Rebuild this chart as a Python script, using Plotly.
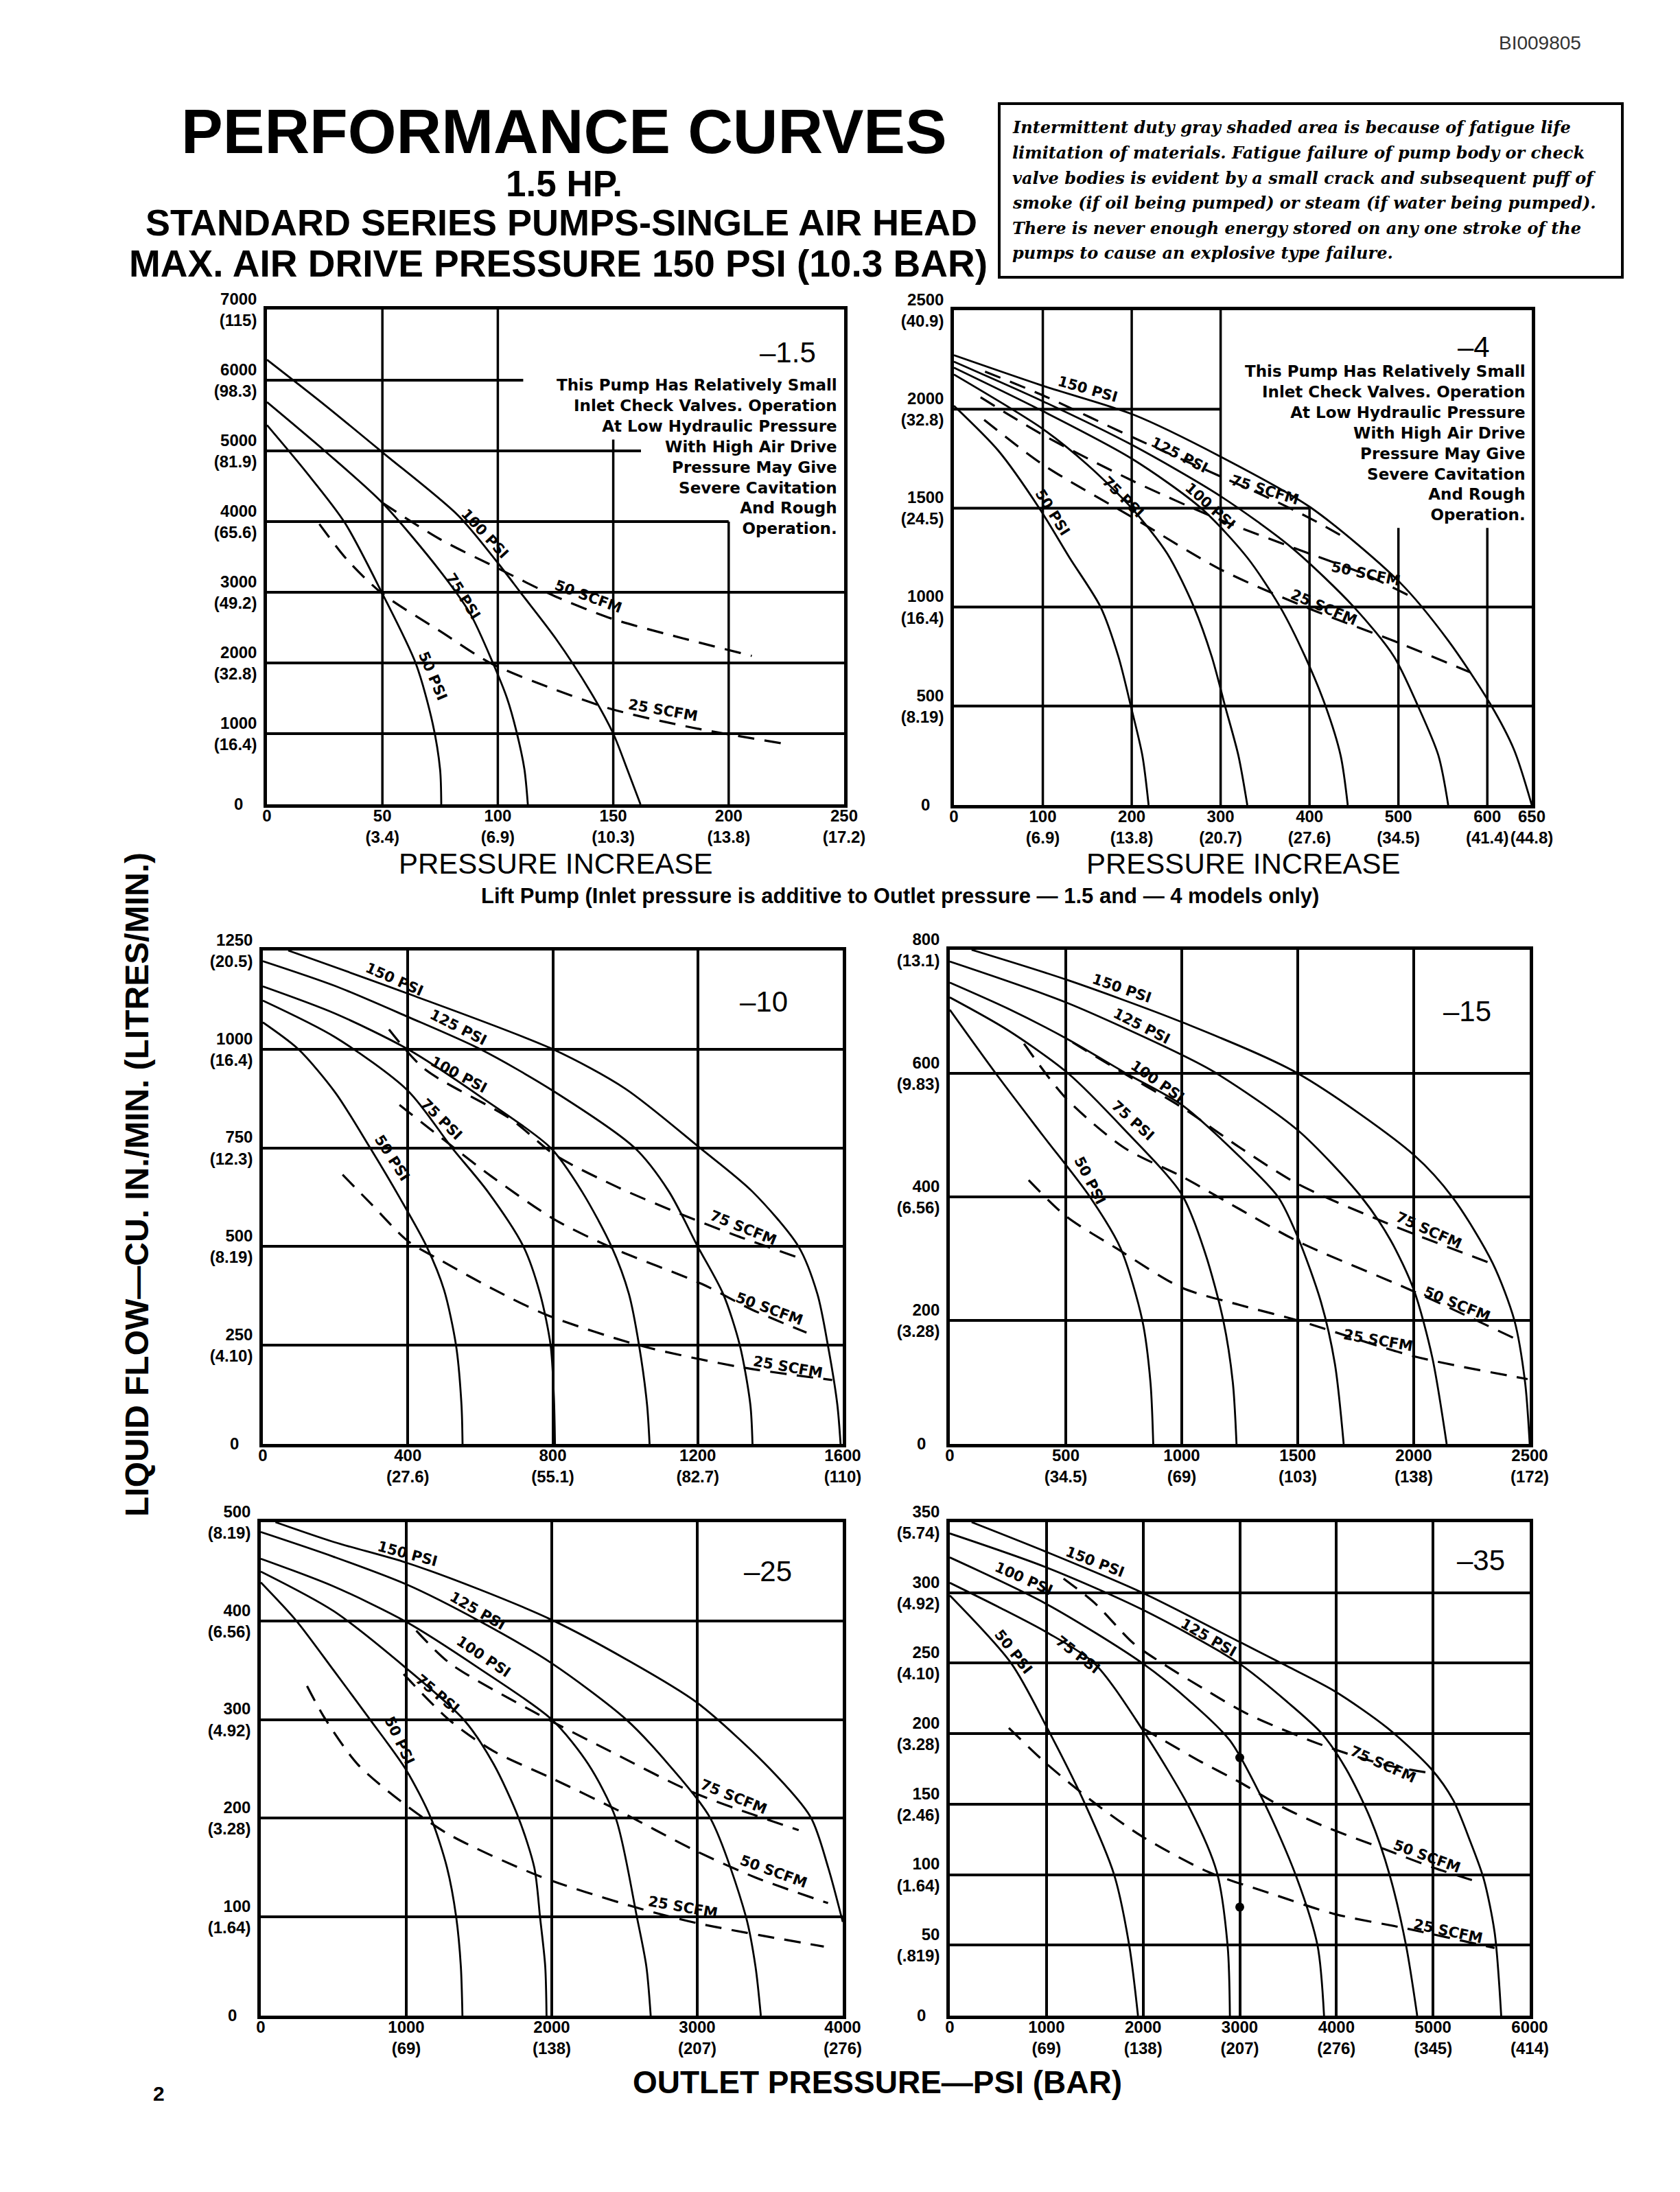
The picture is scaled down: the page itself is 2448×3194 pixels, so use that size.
import plotly.graph_objects as go

W, H = 2448, 3194

# ---------------- values ----------------
# model -1.5
X15_TICKS = [0, 50, 100, 150, 200, 250]
X15_BAR = ["", "3.4", "6.9", "10.3", "13.8", "17.2"]
Y15_TICKS = [0, 1000, 2000, 3000, 4000, 5000, 6000, 7000]
Y15_LTR = ["", "16.4", "32.8", "49.2", "65.6", "81.9", "98.3", "115"]
PSI_15 = {
    "100": ([0, 25, 50, 82.7, 100, 110, 125, 140, 150, 156, 161.8],
            [6290, 5650, 4980, 4090, 3415, 2990, 2350, 1600, 1000, 500, 0]),
    "75": ([0, 25, 50, 75, 88, 98, 104, 108, 111.5, 113],
           [5690, 5000, 4265, 3300, 2700, 1990, 1500, 1040, 500, 0]),
    "50": ([0, 17, 33.6, 50, 64.5, 71.8, 75, 75.5],
           [5365, 4700, 3990, 2980, 1990, 1140, 490, 0]),
}
SCFM_15 = {
    "50": ([50, 75, 100, 125, 150, 180, 210], [4265, 3750, 3340, 2940, 2620, 2350, 2100]),
    "25": ([22.7, 35, 50, 75, 97.3, 125, 150, 185, 222.7],
           [3965, 3450, 2980, 2450, 1990, 1620, 1340, 1080, 865]),
}

# model -4
X4_TICKS = [0, 100, 200, 300, 400, 500, 600, 650]
X4_BAR = ["", "6.9", "13.8", "20.7", "27.6", "34.5", "41.4", "44.8"]
Y4_TICKS = [0, 500, 1000, 1500, 2000, 2500]
Y4_LTR = ["", "8.19", "16.4", "24.5", "32.8", "40.9"]
PSI_4 = {
    "150": ([0, 103, 202, 300, 401, 502, 556, 603, 630, 650],
            [2273, 2114, 1972, 1760, 1504, 1123, 831, 513, 280, 0]),
    "125": ([0, 100, 200, 300, 380, 450, 495, 522, 545, 556],
            [2240, 2040, 1820, 1560, 1300, 1000, 750, 500, 250, 0]),
    "100": ([0, 100, 200, 278, 330, 367, 395, 418, 435, 443],
            [2210, 1990, 1750, 1500, 1250, 1000, 750, 500, 250, 0]),
    "75": ([0, 100, 150, 200, 240, 270, 290, 305, 320, 330],
           [2175, 1900, 1720, 1500, 1270, 1000, 750, 500, 250, 0]),
    "50": ([0, 50, 96, 130, 165, 185, 199, 212, 219],
           [2017, 1790, 1500, 1250, 1000, 750, 500, 250, 0]),
}
SCFM_4 = {
    "75": ([35, 100, 200, 300, 350, 400, 440], [2190, 2070, 1860, 1660, 1560, 1450, 1350]),
    "50": ([30, 100, 200, 300, 400, 460, 520], [2060, 1870, 1640, 1440, 1270, 1170, 1040]),
    "25": ([34, 100, 202, 300, 401, 500, 581], [1946, 1720, 1450, 1190, 990, 820, 670]),
}

# model -10
X10_TICKS = [0, 400, 800, 1200, 1600]
X10_BAR = ["", "27.6", "55.1", "82.7", "110"]
Y10_TICKS = [0, 250, 500, 750, 1000, 1250]
Y10_LTR = ["", "4.10", "8.19", "12.3", "16.4", "20.5"]
PSI_10 = {
    "150": ([70, 400, 800, 1000, 1206, 1350, 1478, 1530, 1559, 1585, 1594],
            [1250, 1141, 1000, 900, 750, 640, 500, 380, 250, 100, 0]),
    "125": ([0, 200, 400, 600, 800, 1026, 1120, 1200, 1270, 1316, 1345, 1351],
            [1223, 1160, 1082, 1000, 895, 750, 640, 500, 380, 250, 100, 0]),
    "100": ([0, 200, 400, 600, 794, 880, 962, 1010, 1038, 1060, 1067],
            [1159, 1090, 1000, 880, 750, 640, 500, 380, 250, 100, 0]),
    "75": ([0, 200, 400, 522, 620, 719, 765, 794, 803, 806],
           [1123, 1030, 895, 750, 640, 500, 380, 250, 120, 0]),
    "50": ([0, 98, 200, 296, 380, 452, 500, 533, 548, 551],
           [1068, 1000, 890, 750, 620, 500, 390, 250, 100, 0]),
}
SCFM_10 = {
    "75": ([348, 446, 684, 806, 980, 1154, 1300, 1484], [1050, 950, 823, 732, 650, 582, 530, 470]),
    "50": ([377, 500, 632, 806, 968, 1212, 1350, 1500], [859, 770, 677, 568, 495, 405, 340, 282]),
    "25": ([220, 300, 400, 493, 640, 783, 1038, 1316, 1571], [682, 607, 514, 464, 390, 327, 250, 195, 162]),
}

# model -15
X15B_TICKS = [0, 500, 1000, 1500, 2000, 2500]
X15B_BAR = ["", "34.5", "69", "103", "138", "172"]
Y15B_TICKS = [0, 200, 400, 600, 800]
Y15B_LTR = ["", "3.28", "6.56", "9.83", "13.1"]
PSI_15B = {
    "150": ([94, 500, 1000, 1500, 2000, 2170, 2340, 2434, 2480, 2500],
            [800, 752, 683, 600, 468, 398, 293, 200, 100, 0]),
    "125": ([0, 500, 1000, 1150, 1500, 1774, 1900, 2000, 2080, 2142],
            [781, 715, 630, 600, 508, 400, 330, 250, 140, 0]),
    "100": ([0, 250, 500, 760, 1000, 1250, 1415, 1500, 1600, 1660, 1698],
            [747, 705, 657, 600, 549, 465, 400, 335, 230, 130, 0]),
    "75": ([0, 250, 510, 750, 1000, 1100, 1179, 1220, 1236],
           [723, 670, 600, 510, 404, 310, 200, 100, 0]),
    "50": ([0, 198, 400, 604, 736, 830, 865, 877], [703, 600, 500, 400, 317, 200, 100, 0]),
}
SCFM_15B = {
    "75": ([530, 750, 1000, 1250, 1500, 1887, 2349], [650, 600, 545, 480, 421, 357, 290]),
    "50": ([320, 500, 750, 1000, 1250, 1500, 2000, 2434], [648, 560, 480, 433, 380, 328, 247, 171]),
    "25": ([340, 500, 717, 1000, 1250, 1500, 2000, 2491], [427, 369, 317, 253, 225, 200, 142, 105]),
}

# model -25
X25_TICKS = [0, 1000, 2000, 3000, 4000]
X25_BAR = ["", "69", "138", "207", "276"]
Y25_TICKS = [0, 100, 200, 300, 400, 500]
Y25_LTR = ["", "1.64", "3.28", "4.92", "6.56", "8.19"]
PSI_25 = {
    "150": ([101, 500, 1000, 1500, 2000, 2500, 3000, 3500, 3780, 3900, 4000],
            [500, 480, 459, 432, 401, 362, 317, 250, 201, 150, 95]),
    "125": ([0, 500, 1000, 1500, 2000, 2512, 2800, 3090, 3335, 3400, 3437],
            [490, 465, 437, 400, 357, 300, 255, 200, 100, 50, 0]),
    "100": ([0, 500, 1000, 1500, 2000, 2250, 2440, 2585, 2650, 2680],
            [463, 435, 399, 352, 300, 255, 200, 100, 50, 0]),
    "75": ([0, 500, 1000, 1400, 1600, 1770, 1880, 1920, 1955, 1964],
           [450, 410, 352, 299, 255, 201, 150, 99, 50, 0]),
    "50": ([0, 245, 500, 751, 999, 1170, 1280, 1343, 1375, 1386],
           [439, 400, 350, 300, 249, 200, 150, 100, 50, 0]),
}
SCFM_25 = {
    "75": ([1069, 1300, 1848, 2400, 2975, 3697], [390, 357, 310, 268, 226, 188]),
    "50": ([982, 1300, 1600, 1993, 2455, 2975, 3400, 3899], [346, 299, 268, 241, 208, 168, 140, 114]),
    "25": ([318, 433, 664, 982, 1300, 1921, 2570, 2989, 3870], [334, 303, 255, 215, 183, 141, 110, 94, 70]),
}

# model -35
X35_TICKS = [0, 1000, 2000, 3000, 4000, 5000, 6000]
X35_BAR = ["", "69", "138", "207", "276", "345", "414"]
Y35_TICKS = [0, 50, 100, 150, 200, 250, 300, 350]
Y35_LTR = ["", ".819", "1.64", "2.46", "3.28", "4.10", "4.92", "5.74"]
PSI_35 = {
    "150": ([226, 996, 1992, 3000, 3487, 3985, 4528, 4981, 5207, 5388, 5524, 5637, 5705],
            [350, 329, 300, 265, 248, 230, 204, 175, 153, 123, 97, 59, 0]),
    "125": ([0, 996, 1992, 2988, 3500, 3850, 4100, 4350, 4550, 4720, 4836],
            [342, 318, 288, 250, 222, 200, 175, 140, 100, 50, 0]),
    "100": ([0, 1000, 1992, 2500, 2900, 3260, 3577, 3804, 3872],
            [325, 292, 250, 222, 195, 150, 100, 50, 0]),
    "75": ([0, 500, 1000, 1494, 1992, 2490, 2762, 2875, 2898],
           [307, 290, 272, 250, 203, 146, 102, 49, 0]),
    "50": ([0, 634, 1000, 1400, 1700, 1856, 1947], [298, 250, 205, 150, 100, 50, 0]),
}
SCFM_35 = {
    "75": ([1177, 1494, 1902, 2219, 2672, 3079, 3849, 4500, 4981], [310, 293, 264, 249, 230, 214, 192, 178, 172]),
    "50": ([1992, 2219, 2600, 2988, 3441, 3849, 4500, 5000, 5456], [204, 195, 180, 166, 148, 135, 118, 105, 95]),
    "25": ([611, 996, 1494, 1992, 2672, 3305, 3985, 4709, 5637], [204, 179, 151, 127, 102, 87, 72, 62, 48]),
}
DOT35_X = [3000, 3000]
DOT35_Y = [183, 77]

NOTE = ("This Pump Has Relatively Small<br>Inlet Check Valves. Operation<br>"
        "At Low Hydraulic Pressure<br>With High Air Drive<br>Pressure May Give<br>"
        "Severe Cavitation<br>And Rough<br>Operation.")
BOX_LINES = [
    "Intermittent duty gray shaded area is because of fatigue life",
    "limitation of materials. Fatigue failure of pump body or check",
    "valve bodies is evident by a small crack and subsequent puff of",
    "smoke (if oil being pumped) or steam (if water being pumped).",
    "There is never enough energy stored on any one stroke of the",
    "pumps to cause an explosive type failure.",
]

# ---------------- drawing ----------------
SANS = "Liberation Sans, Arial, sans-serif"
WIDE = "DejaVu Sans, Liberation Sans, sans-serif"
SERIF = "DejaVu Serif, Liberation Serif, serif"
INK = "black"


def tick_text(vals, bars, pad=""):
    out = []
    for v, b in zip(vals, bars):
        out.append(f"{v}<br>({b})" if b else f"{v}{pad}")
    return out


panels = [
    dict(tag="–1.5", box=(381, 1222, 443, 1164), xt=X15_TICKS, xb=X15_BAR, yt=Y15_TICKS, yb=Y15_LTR,
         psi=PSI_15, scfm=SCFM_15, title_pos=(0.9025, 0.914), note=(0.990, 0.703),
         labels=[("100 PSI", 94.5, 3830, 47), ("75 PSI", 84.9, 2940, 58), ("50 PSI", 71.8, 1815, 67),
                 ("50 SCFM", 139, 2940, 20), ("25 SCFM", 171.5, 1330, 10)],
         hgrid=[(1000, 0, 250), (2000, 0, 250), (3000, 0, 250), (4000, 0, 200), (5000, 0, 162), (6000, 0, 111)],
         vgrid=[(50, 0, 7000), (100, 0, 7000), (150, 0, 5160), (200, 0, 4000)]),
    dict(tag="–4", box=(1382, 2224, 444, 1165), xt=X4_TICKS, xb=X4_BAR, yt=Y4_TICKS, yb=Y4_LTR,
         psi=PSI_4, scfm=SCFM_4, title_pos=(0.900, 0.926), note=(0.992, 0.731),
         labels=[("150 PSI", 150, 2100, 16), ("125 PSI", 253.6, 1769, 27), ("100 PSI", 288, 1512, 42),
                 ("75 PSI", 190, 1557, 45), ("50 PSI", 111, 1477, 58), ("75 SCFM", 350, 1592, 17),
                 ("50 SCFM", 463, 1168, 12), ("25 SCFM", 416, 999, 23)],
         hgrid=[(500, 0, 650), (1000, 0, 650), (1500, 0, 400), (2000, 0, 300)],
         vgrid=[(100, 0, 2500), (200, 0, 2500), (300, 0, 2500), (400, 0, 1500), (500, 0, 1400), (600, 0, 1400)]),
    dict(tag="–10", box=(375, 1220, 1377, 2096), xt=X10_TICKS, xb=X10_BAR, yt=Y10_TICKS, yb=Y10_LTR,
         psi=PSI_10, scfm=SCFM_10, title_pos=(0.864, 0.896), note=None,
         labels=[("150 PSI", 363, 1177, 24), ("125 PSI", 539, 1055, 27), ("100 PSI", 541, 936, 28),
                 ("75 PSI", 493, 823, 45), ("50 PSI", 356, 725, 57), ("75 SCFM", 1325, 548, 22),
                 ("50 SCFM", 1397, 343, 20), ("25 SCFM", 1449, 195, 10)]),
    dict(tag="–15", box=(1376, 2221, 1376, 2096), xt=X15B_TICKS, xb=X15B_BAR, yt=Y15B_TICKS, yb=Y15B_LTR,
         psi=PSI_15B, scfm=SCFM_15B, title_pos=(0.892, 0.876), note=None,
         labels=[("150 PSI", 740, 738, 19), ("125 PSI", 826, 677, 27), ("100 PSI", 896, 587, 35),
                 ("75 PSI", 789, 523, 42), ("50 PSI", 604, 427, 63), ("75 SCFM", 2066, 346, 24),
                 ("50 SCFM", 2185, 227, 22), ("25 SCFM", 1845, 168, 10)]),
    dict(tag="–25", box=(372, 1220, 2210, 2929), xt=X25_TICKS, xb=X25_BAR, yt=Y25_TICKS, yb=Y25_LTR,
         psi=PSI_25, scfm=SCFM_25, title_pos=(0.871, 0.90), note=None,
         labels=[("150 PSI", 1005, 468, 15), ("125 PSI", 1487, 410, 30), ("100 PSI", 1531, 364, 34),
                 ("75 PSI", 1213, 326, 40), ("50 PSI", 953, 279, 65), ("75 SCFM", 3249, 222, 22),
                 ("50 SCFM", 3523, 146, 20), ("25 SCFM", 2902, 110, 10)]),
    dict(tag="–35", box=(1376, 2221, 2210, 2929), xt=X35_TICKS, xb=X35_BAR, yt=Y35_TICKS, yb=Y35_LTR,
         psi=PSI_35, scfm=SCFM_35, title_pos=(0.916, 0.923), note=None,
         labels=[("150 PSI", 1503, 322, 21), ("125 PSI", 2672, 268, 30), ("100 PSI", 761, 310, 24),
                 ("75 PSI", 1322, 256, 38), ("50 PSI", 657, 258, 52), ("75 SCFM", 4483, 178, 24),
                 ("50 SCFM", 4936, 113, 20), ("25 SCFM", 5153, 60, 12)]),
]

fig = go.Figure()
shapes = []
annotations = []
layout_axes = {}

for i, p in enumerate(panels, start=1):
    xa = "x" if i == 1 else f"x{i}"
    ya = "y" if i == 1 else f"y{i}"
    x0, x1, y0, y1 = p["box"]
    partial = "hgrid" in p

    for name, (xs, ys) in p["psi"].items():
        fig.add_trace(go.Scatter(x=xs, y=ys, mode="lines", xaxis=xa, yaxis=ya, showlegend=False,
                                 line=dict(color=INK, width=2.8, shape="spline", smoothing=0.8),
                                 name=f"{name} PSI", hoverinfo="skip"))
    for name, (xs, ys) in p["scfm"].items():
        fig.add_trace(go.Scatter(x=xs, y=ys, mode="lines", xaxis=xa, yaxis=ya, showlegend=False,
                                 line=dict(color=INK, width=3.2, dash="24px,15px", shape="spline", smoothing=0.8),
                                 name=f"{name} SCFM", hoverinfo="skip"))

    ax_common = dict(showline=True, mirror=True, linecolor=INK, linewidth=4.5, zeroline=False,
                     ticks="", ticklen=0, tickfont=dict(family=SANS, size=24, color=INK, weight="bold"),
                     fixedrange=True, automargin=False, tickangle=0)
    layout_axes["xaxis" if i == 1 else f"xaxis{i}"] = dict(
        ax_common, domain=[x0 / W, x1 / W], anchor=ya, range=[0, p["xt"][-1]],
        tickmode="array", tickvals=p["xt"], ticktext=tick_text(p["xt"], p["xb"]),
        showgrid=not partial, gridcolor=INK, gridwidth=4, ticklabelstandoff=-9)
    layout_axes["yaxis" if i == 1 else f"yaxis{i}"] = dict(
        ax_common, domain=[1 - y1 / H, 1 - y0 / H], anchor=xa, range=[0, p["yt"][-1]],
        tickmode="array", tickvals=p["yt"], ticktext=tick_text(p["yt"], p["yb"], pad="\u00a0\u00a0\u00a0"),
        showgrid=not partial, gridcolor=INK, gridwidth=4, ticklabelstandoff=5)

    if partial:
        for yv, xa0, xa1 in p["hgrid"]:
            shapes.append(dict(type="line", xref=xa, yref=ya, x0=xa0, x1=xa1, y0=yv, y1=yv,
                               line=dict(color=INK, width=4), layer="below"))
        for xv, yb0, yb1 in p["vgrid"]:
            shapes.append(dict(type="line", xref=xa, yref=ya, x0=xv, x1=xv, y0=yb0, y1=yb1,
                               line=dict(color=INK, width=3.5), layer="below"))

    tx, ty = p["title_pos"]
    annotations.append(dict(text=p["tag"], xref=f"{xa} domain", yref=f"{ya} domain", x=tx, y=ty,
                            xanchor="center", yanchor="middle", showarrow=False,
                            font=dict(family=SANS, size=42, color=INK)))
    if p["note"]:
        nx, ny = p["note"]
        annotations.append(dict(text=NOTE, xref=f"{xa} domain", yref=f"{ya} domain", x=nx, y=ny,
                                xanchor="right", yanchor="middle", align="right", showarrow=False,
                                font=dict(family=WIDE, size=23, color=INK, weight="bold")))
    for txt, lx, ly, ang in p["labels"]:
        annotations.append(dict(text=txt, xref=xa, yref=ya, x=lx, y=ly, textangle=ang, showarrow=False,
                                xanchor="center", yanchor="middle",
                                font=dict(family=WIDE, size=21, color=INK, weight="bold")))

# the two marked points on the -35 chart
fig.add_trace(go.Scatter(x=DOT35_X, y=DOT35_Y, mode="markers", xaxis="x6", yaxis="y6", showlegend=False,
                         marker=dict(color=INK, size=13), hoverinfo="skip"))


def page_text(text, px, py, size, bold=True, **kw):
    f = dict(family=kw.pop("family", SANS), size=size, color=kw.pop("color", INK))
    if bold:
        f["weight"] = "bold"
    if "style" in kw:
        f["style"] = kw.pop("style")
    kw.setdefault("xanchor", "center")
    kw.setdefault("yanchor", "middle")
    annotations.append(dict(text=text, xref="paper", yref="paper", x=px / W, y=1 - py / H,
                            showarrow=False, borderpad=0, font=f, **kw))


page_text("BI009805", 2236, 54, 28, bold=False, color="#333333")
page_text("PERFORMANCE CURVES", 814, 183, 91)
page_text("1.5 HP.", 814, 259, 53)
page_text("STANDARD SERIES PUMPS-SINGLE AIR HEAD", 810, 316, 54)
page_text("MAX. AIR DRIVE PRESSURE 150 PSI (10.3 BAR)", 805, 376, 55)
for k, line in enumerate(BOX_LINES):
    page_text(line, 1466, 178 + 36.5 * k, 24, family=SERIF, style="italic", xanchor="left")
page_text("PRESSURE INCREASE", 801, 1250, 42, bold=False)
page_text("PRESSURE INCREASE", 1803, 1250, 42, bold=False)
page_text("Lift Pump (Inlet pressure is additive to Outlet pressure — 1.5 and — 4 models only)",
          1303, 1297, 31)
page_text("LIQUID FLOW—CU. IN./MIN. (LITRES/MIN.)", 192, 1718, 48, textangle=-90)
page_text("OUTLET PRESSURE—PSI (BAR)", 1270, 3026, 46)
page_text("2", 224, 3042, 30)

# frame round the note at the top right
shapes.append(dict(type="rect", xref="paper", yref="paper", x0=1448 / W, x1=2356 / W,
                   y0=1 - 396 / H, y1=1 - 143 / H, line=dict(color=INK, width=4)))

fig.update_layout(width=W, height=H, margin=dict(l=0, r=0, t=0, b=0, autoexpand=False),
                  paper_bgcolor="white", plot_bgcolor="white",
                  shapes=shapes, annotations=annotations, **layout_axes)

fig.write_html("out.html")
